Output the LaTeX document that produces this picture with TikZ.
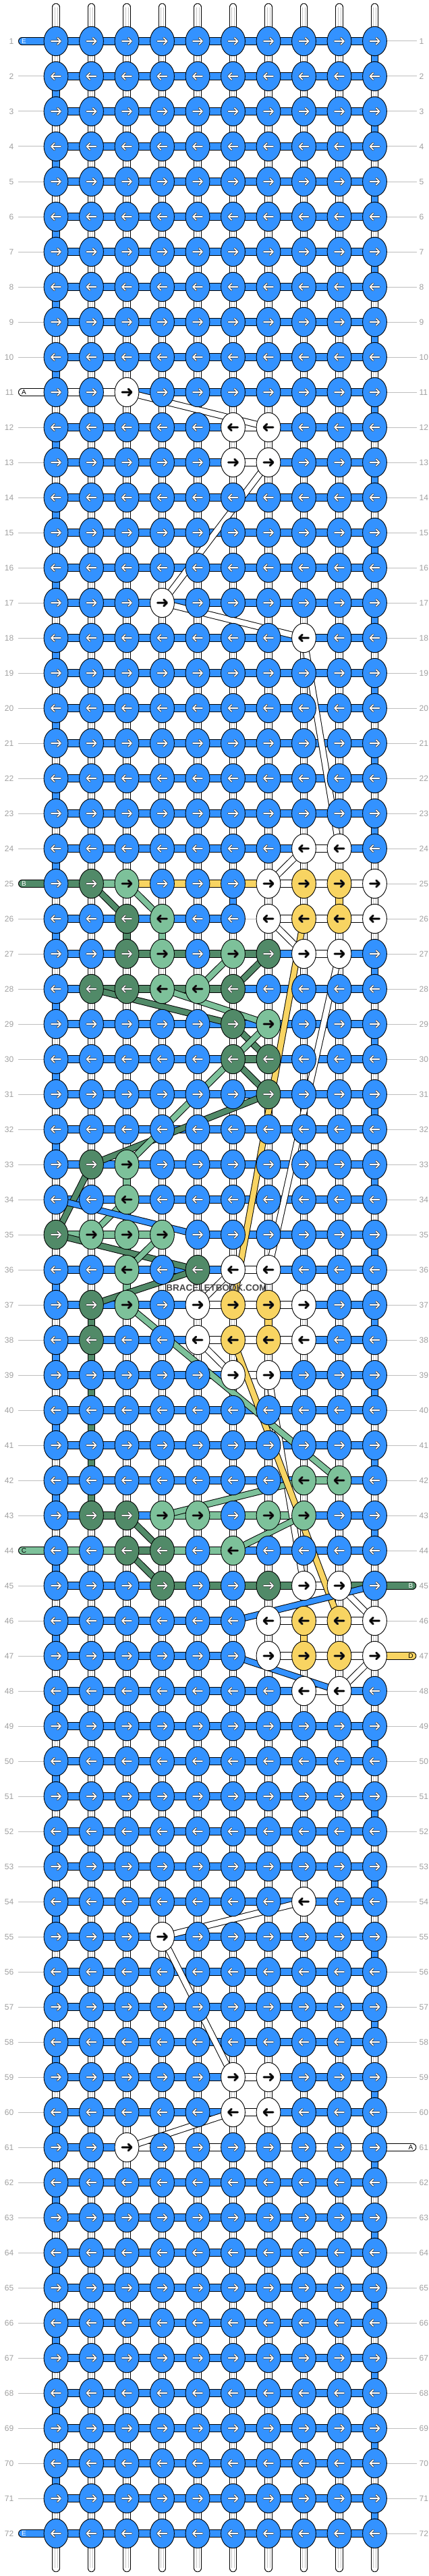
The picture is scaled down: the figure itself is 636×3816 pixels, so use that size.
\documentclass[tikz,border=0pt]{standalone}
\usepackage{fontspec}
\setmainfont{Liberation Sans}
\usetikzlibrary{shapes.geometric}
\definecolor{cb}{RGB}{51,146,255}
\definecolor{cw}{RGB}{255,255,255}
\definecolor{cy}{RGB}{248,212,98}
\definecolor{cg}{RGB}{125,193,154}
\definecolor{cd}{RGB}{81,138,104}
\colorlet{ab}{white}\colorlet{ad}{white}\colorlet{aw}{black}\colorlet{ay}{black}\colorlet{ag}{black}
\definecolor{lbl}{RGB}{160,160,160}
\definecolor{gl}{RGB}{190,190,190}
\pgfdeclarelayer{BG}\pgfdeclarelayer{L1}\pgfdeclarelayer{L2}\pgfsetlayers{BG,L1,L2,main}
\tikzset{
 knot/.style={ellipse, draw=black, line width=0.9pt, minimum width=35.8pt, minimum height=43.4pt, inner sep=0pt},
 strout/.style={line width=11.6pt, draw=black},
 strin/.style={line width=9.8pt},
 bandout/.style={line width=10pt, draw=black},
 bandin/.style={line width=8pt},
 arrowout/.style={line width=3.3pt, draw=black!75, line cap=round, line join=round},
 arrowin/.style={line width=1.7pt, line cap=round, line join=round},
 lbltxt/.style={text=lbl, font=\fontsize{12}{12}\selectfont, inner sep=0pt},
 greyline/.style={draw=gl, line width=1pt},
 tubetxt/.style={font=\fontsize{10}{10}\selectfont, inner sep=0pt}
}
\newcommand\knotrow[2]{\expandafter\def\csname k#1\endcsname{#2}}
\newcommand\segrow[2]{\expandafter\def\csname s#1\endcsname{#2}}
\newcommand\vovr[3]{\expandafter\def\csname v#1-#2\endcsname{#3}}
\newcommand\myflag[1]{\expandafter\def\csname #1\endcsname{}}
\def\nn{n}\def\xx{x}\def\ww{w}
% knots
\knotrow{11}{b,b,w,b,b,b,b,b,b,b}
\knotrow{12}{b,b,b,b,b,w,w,b,b,b}
\knotrow{13}{b,b,b,b,b,w,w,b,b,b}
\knotrow{17}{b,b,b,w,b,b,b,b,b,b}
\knotrow{18}{b,b,b,b,b,b,b,w,b,b}
\knotrow{24}{b,b,b,b,b,b,b,w,w,b}
\knotrow{25}{b,d,g,b,b,b,w,y,y,w}
\knotrow{26}{b,b,d,g,b,b,w,y,y,w}
\knotrow{27}{b,b,d,g,b,g,d,w,w,b}
\knotrow{28}{b,d,d,g,g,d,b,b,b,b}
\knotrow{29}{b,b,b,b,b,d,g,b,b,b}
\knotrow{30}{b,b,b,b,b,d,d,b,b,b}
\knotrow{31}{b,b,b,b,b,b,d,b,b,b}
\knotrow{33}{b,d,g,b,b,b,b,b,b,b}
\knotrow{34}{b,b,g,b,b,b,b,b,b,b}
\knotrow{35}{d,g,g,g,b,b,b,b,b,b}
\knotrow{36}{b,b,g,b,d,w,w,b,b,b}
\knotrow{37}{b,d,g,b,w,y,y,w,b,b}
\knotrow{38}{b,d,b,b,w,y,y,w,b,b}
\knotrow{39}{b,b,b,b,b,w,w,b,b,b}
\knotrow{42}{b,b,b,b,b,b,b,g,g,b}
\knotrow{43}{b,d,d,g,g,b,g,g,b,b}
\knotrow{44}{b,b,d,d,b,g,b,b,b,b}
\knotrow{45}{b,b,b,d,b,b,d,w,w,b}
\knotrow{46}{b,b,b,b,b,b,w,y,y,w}
\knotrow{47}{b,b,b,b,b,b,w,y,y,w}
\knotrow{48}{b,b,b,b,b,b,b,w,w,b}
\knotrow{54}{b,b,b,b,b,b,b,w,b,b}
\knotrow{55}{b,b,b,w,b,b,b,b,b,b}
\knotrow{59}{b,b,b,b,b,w,w,b,b,b}
\knotrow{60}{b,b,b,b,b,w,w,b,b,b}
\knotrow{61}{b,b,w,b,b,b,b,b,b,b}
% horizontal segments
\segrow{11}{w,w,b,b,b,b,b,b,b}
\segrow{12}{b,b,b,b,b,w,b,b,b}
\segrow{13}{b,b,b,b,b,w,b,b,b}
\segrow{24}{b,b,b,b,b,b,b,w,b}
\segrow{25}{d,g,y,y,y,y,w,w,w}
\segrow{26}{b,b,b,b,b,x,w,w,w}
\segrow{27}{b,b,d,d,d,d,b,w,b}
\segrow{28}{b,d,d,d,d,b,b,b,b}
\segrow{30}{b,b,b,b,b,d,b,b,b}
\segrow{35}{g,g,g,n,b,b,b,b,b}
\segrow{36}{b,b,b,b,b,w,b,b,b}
\segrow{37}{b,b,b,b,w,w,w,b,b}
\segrow{38}{b,b,b,b,w,w,w,b,b}
\segrow{39}{b,b,b,b,b,w,b,b,b}
\segrow{42}{b,b,b,b,b,b,b,g,b}
\segrow{43}{b,d,b,g,g,g,g,b,b}
\segrow{44}{g,g,d,g,g,b,b,b,b}
\segrow{45}{b,b,b,d,d,d,d,w,d}
\segrow{46}{b,b,b,b,b,n,w,w,w}
\segrow{47}{b,b,b,b,b,n,w,w,w}
\segrow{48}{b,b,b,b,b,b,b,w,b}
\segrow{59}{b,b,b,b,b,w,b,b,b}
\segrow{60}{b,b,b,b,b,w,b,b,b}
\segrow{61}{b,b,w,w,w,w,w,w,w}
% vertical overrides (between row r and r+1)
\vovr{25}{6}{b}\vovr{25}{9}{y}\vovr{25}{10}{w}
\vovr{26}{3}{d}\vovr{26}{4}{g}
\vovr{33}{3}{g}\vovr{34}{1}{w}\vovr{36}{3}{g}
\vovr{37}{2}{d}\vovr{37}{7}{y}
\vovr{38}{2}{d}\vovr{39}{2}{d}\vovr{40}{2}{d}\vovr{41}{2}{d}\vovr{42}{2}{d}
\vovr{45}{10}{w}\vovr{46}{8}{y}\vovr{47}{10}{w}
% rows with tubes
\myflag{lt1}\myflag{lt11}\myflag{lt25}\myflag{lt44}\myflag{lt72}
\myflag{rt45}\myflag{rt47}\myflag{rt61}
\begin{document}
\begin{tikzpicture}[x=1pt,y=-1pt]
\useasboundingbox (0,0) rectangle (636,3816);
\begin{pgfonlayer}{BG}
\fill[white] (0,0) rectangle (636,3816);
\end{pgfonlayer}
% ---------- knots, segments, labels
\foreach \r in {1,...,72}{
  \ifcsname k\r\endcsname\edef\klist{\csname k\r\endcsname}\else\def\klist{b,b,b,b,b,b,b,b,b,b}\fi
  \ifodd\r\def\dir{1}\else\def\dir{-1}\fi
  \foreach \col [count=\c] in \klist {
    \node[knot, fill=c\col] (k-\r-\c) at ({83+(\c-1)*52.5},{61+(\r-1)*52}) {};
    \begin{scope}[shift={(k-\r-\c.center)}, xscale=\dir]
      \draw[arrowout] (-7,0) -- (6.5,0) (2.2,-4.8) -- (7,0) -- (2.2,4.8);
      \draw[arrowin, draw=a\col] (-7,0) -- (6.5,0) (2.2,-4.8) -- (7,0) -- (2.2,4.8);
    \end{scope}
  }
  \ifcsname s\r\endcsname\edef\slist{\csname s\r\endcsname}\else\def\slist{b,b,b,b,b,b,b,b,b}\fi
  \begin{pgfonlayer}{L1}
  \foreach \col [count=\c] in \slist {
    \pgfmathtruncatemacro\cc{\c+1}
    \edef\tmp{\col}
    \ifx\tmp\nn\else
      \ifx\tmp\xx
        \draw[greyline] (k-\r-\c.east) -- (k-\r-\cc.west);
      \else
        \draw[strout] (k-\r-\c.center) -- (k-\r-\cc.center);
        \draw[strin, draw=c\col] (k-\r-\c.center) -- (k-\r-\cc.center);
      \fi
    \fi
  }
  \ifcsname lt\r\endcsname\else
    \coordinate (gl-\r) at (27,{61+(\r-1)*52});
    \draw[greyline] (gl-\r) -- (k-\r-1.west);
  \fi
  \ifcsname rt\r\endcsname\else
    \coordinate (gr-\r) at (617.5,{61+(\r-1)*52});
    \draw[greyline] (k-\r-10.east) -- (gr-\r);
  \fi
  \end{pgfonlayer}
  \node[lbltxt, anchor=east] (ll-\r) at (20.5,{61+(\r-1)*52}) {\r};
  \node[lbltxt, anchor=west] (lr-\r) at (621.5,{61+(\r-1)*52}) {\r};
}
% ---------- vertical strings
\begin{pgfonlayer}{L1}
\foreach \r in {1,...,71}{
  \pgfmathtruncatemacro\rr{\r+1}
  \foreach \c in {1,...,10}{
    \ifcsname v\r-\c\endcsname\edef\vc{\csname v\r-\c\endcsname}\else
      \def\vc{w}%
      \ifodd\r \ifnum\c=10 \def\vc{b}\fi \else \ifnum\c=1 \def\vc{b}\fi \fi
    \fi
    \draw[strout] (k-\r-\c.center) -- (k-\rr-\c.center);
    \draw[strin, draw=c\vc] (k-\r-\c.center) -- (k-\rr-\c.center);
    \ifx\vc\ww
      \draw[gray!45, line width=0.5pt] ([xshift=-2pt]k-\r-\c.center) -- ([xshift=-2pt]k-\rr-\c.center);
      \draw[gray!45, line width=0.5pt] ([xshift=2pt]k-\r-\c.center) -- ([xshift=2pt]k-\rr-\c.center);
    \fi
  }
}
% top and bottom loose ends
\foreach \c in {1,...,10}{
  \coordinate (t-\c) at ({83+(\c-1)*52.5},10.6);
  \coordinate (b-\c) at ({83+(\c-1)*52.5},3804.4);
  \draw[strout, line cap=round] (t-\c) -- (k-1-\c.center);
  \draw[strin, draw=white, line cap=round] (t-\c) -- (k-1-\c.center);
  \draw[gray!45, line width=0.5pt] ([xshift=-2pt]t-\c) -- ([xshift=-2pt]k-1-\c.center);
  \draw[gray!45, line width=0.5pt] ([xshift=2pt]t-\c) -- ([xshift=2pt]k-1-\c.center);
  \draw[strout, line cap=round] (k-72-\c.center) -- (b-\c);
  \draw[strin, draw=white, line cap=round] (k-72-\c.center) -- (b-\c);
  \draw[gray!45, line width=0.5pt] ([xshift=-2pt]k-72-\c.center) -- ([xshift=-2pt]b-\c);
  \draw[gray!45, line width=0.5pt] ([xshift=2pt]k-72-\c.center) -- ([xshift=2pt]b-\c);
}
% left tubes
\foreach \r/\col/\tc/\L in {1/b/white/E, 11/w/black/A, 25/d/white/B, 44/g/black/C, 72/b/white/E}{
  \coordinate (le-\r) at (32.8,{61+(\r-1)*52});
  \draw[strout, line cap=round] (le-\r) -- (k-\r-1.center);
  \draw[strin, draw=c\col, line cap=round] (le-\r) -- (k-\r-1.center);
  \node[tubetxt, text=\tc] (lt-\r) at (35.5,{61+(\r-1)*52}) {\L};
}
% right tubes
\foreach \r/\col/\tc/\L in {45/d/white/B, 47/y/black/D, 61/w/black/A}{
  \coordinate (re-\r) at (611.5,{61+(\r-1)*52});
  \draw[strout, line cap=round] (k-\r-10.center) -- (re-\r);
  \draw[strin, draw=c\col, line cap=round] (k-\r-10.center) -- (re-\r);
  \node[tubetxt, text=\tc] (rtn-\r) at (609,{61+(\r-1)*52}) {\L};
}
\end{pgfonlayer}
% ---------- diagonal strings behind the knots
\begin{pgfonlayer}{L2}
\foreach \p/\q/\col in {
 11-3/12-7/w, 13-7/17-4/w, 17-4/18-8/w, 18-8/24-9/w, 24-8/25-7/w, 26-7/27-8/w,
 27-9/36-7/w, 36-6/37-5/w, 38-5/39-6/w, 39-7/45-8/w, 45-9/46-10/w, 47-10/48-9/w,
 54-8/55-4/w, 55-4/59-6/w, 60-6/61-3/w,
 25-2/26-3/d, 27-7/28-6/d, 28-2/29-6/d, 29-6/30-7/d, 30-6/31-7/d, 31-7/33-2/d,
 33-2/35-1/d, 35-1/36-5/d, 36-5/37-2/d, 43-3/44-4/d, 44-3/45-4/d,
 25-3/26-4/g, 27-6/28-5/g, 28-4/29-7/g, 29-7/33-3/g, 34-3/35-2/g, 35-4/36-3/g,
 37-3/42-9/g, 42-8/43-4/g, 43-8/44-6/g,
 26-8/37-6/y, 38-6/46-9/y,
 34-1/35-5/b, 45-10/46-6/b, 47-6/48-9/b}{
  \draw[bandout] (k-\p.center) -- (k-\q.center);
  \draw[bandin, draw=c\col] (k-\p.center) -- (k-\q.center);
}
\end{pgfonlayer}
% watermark
\node[font=\bfseries\fontsize{13.5}{14}\selectfont, text=black!72, inner sep=0pt] (wm) at (321,1908) {BRACELETBOOK.COM};
\end{tikzpicture}
\end{document}
